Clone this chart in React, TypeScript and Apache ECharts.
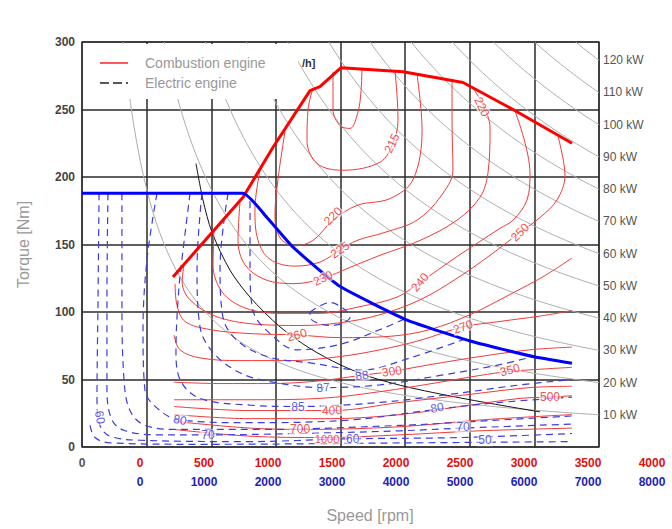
import React, { useEffect, useRef } from "react";
import * as echarts from "echarts";

type Pt = [number, number];
const FONT = "'Liberation Sans', Arial, sans-serif";

// Tick labels
const combustionTickLabels = ["0", "500", "1000", "1500", "2000", "2500", "3000", "3500", "4000"];
const electricTickLabels = ["0", "1000", "2000", "3000", "4000", "5000", "6000", "7000", "8000"];

// Constant power hyperbolas (kW)
const powerLevels = [10, 20, 30, 40, 50, 60, 70, 80, 90, 100, 110, 120];
const isoSpeeds: number[] = [];
for (let n = 25; n <= 4000; n += 25) isoSpeeds.push(n);

// Full-load curves [rpm, Nm]
const combustionMaxTorque: Pt[] = [[704, 126], [1246, 185], [1478, 222], [1764, 264], [1841, 267], [2004, 281], [2484, 278], [2948, 270], [3335, 250], [3791, 225]];
const electricMaxTorque: Pt[] = [[0, 188], [1246, 188], [1431, 170], [1633, 148], [1996, 119], [2515, 94], [3025, 78], [3489, 67], [3791, 62]];
const thinBlackCurve: Pt[] = [[882, 210], [936, 183], [1006, 159], [1145, 131], [1300, 111], [1532, 89], [1764, 73], [1996, 61], [2228, 52], [2538, 44], [3002, 35], [3544, 26]];

// Combustion engine specific consumption contours
const bsfc210: Pt[] = [[1942, 278], [1942, 250], [1996, 238], [2073, 236], [2135, 248], [2159, 264], [2166, 280]];
const bsfc215: Pt[] = [[1787, 266], [1749, 250], [1741, 227], [1818, 210], [2019, 205], [2306, 211], [2406, 225], [2445, 242], [2437, 261], [2422, 278]];
const bsfc220: Pt[] = [[2592, 276], [2631, 235], [2561, 198], [2383, 184], [2128, 179], [1942, 168], [1787, 153], [1648, 149], [1532, 155], [1493, 172], [1516, 198], [1571, 234]];
const bsfc225: Pt[] = [[2863, 271], [2863, 240], [2870, 205], [2770, 185], [2592, 168], [2344, 159], [2128, 153], [1996, 146], [1841, 137], [1648, 134], [1455, 139], [1362, 153], [1338, 176], [1377, 205]];
const bsfc230: Pt[] = [[3025, 266], [3157, 237], [3141, 203], [3079, 185], [2901, 168], [2615, 153], [2306, 142], [2073, 133], [1865, 125], [1648, 121], [1416, 124], [1261, 135], [1207, 153], [1222, 181]];
const bsfc240: Pt[] = [[3350, 249], [3466, 203], [3443, 183], [3335, 168], [3234, 162], [2901, 141], [2615, 122], [2437, 111], [2151, 104], [1841, 99], [1532, 99], [1261, 103], [1083, 115], [1014, 135], [1021, 160]];
const bsfc250: Pt[] = [[3683, 230], [3737, 201], [3675, 183], [3544, 170], [3389, 159], [3157, 142], [2886, 124], [2615, 109], [2306, 98], [1996, 92], [1687, 90], [1338, 91], [1029, 97], [836, 109], [775, 122], [789, 135]];
const bsfc260: Pt[] = [[3791, 140], [3582, 127], [3311, 113], [3002, 98], [2692, 87], [2383, 82], [1996, 81], [1663, 83], [1300, 84], [990, 87], [797, 93], [735, 105], [720, 121]];
const bsfc270: Pt[] = [[3791, 101], [3544, 97], [3234, 93], [2948, 89], [2615, 79], [2306, 72], [1996, 67], [1609, 64], [1222, 64], [913, 66], [758, 72], [712, 83]];
const bsfc300: Pt[] = [[712, 48], [1068, 47], [1455, 47], [1841, 49], [2151, 53], [2398, 56], [2692, 61], [3079, 67], [3466, 72], [3791, 74]];
const bsfc350: Pt[] = [[712, 35], [1300, 35], [1841, 36], [2306, 41], [2770, 48], [3079, 53], [3311, 56], [3791, 59]];
const bsfc400: Pt[] = [[712, 30], [1300, 27], [1934, 27], [2460, 33], [3002, 39], [3466, 44], [3791, 45]];
const bsfc500: Pt[] = [[712, 24], [1300, 21], [1919, 21], [2460, 24], [3002, 31], [3389, 36], [3621, 37], [3791, 38]];
const bsfc700: Pt[] = [[712, 19], [1300, 14], [1741, 13], [2460, 15], [3079, 20], [3791, 24]];
const bsfc1000: Pt[] = [[712, 13], [1300, 8], [1865, 7], [2460, 9], [3079, 12], [3791, 14]];

// Electric engine efficiency contours (%)
const eff50: Pt[] = [[62, 16], [101, 7], [217, 3], [913, 2], [2460, 3], [3791, 4]];
const eff60: Pt[] = [[132, 188], [124, 109], [116, 35], [139, 16], [217, 8], [449, 5], [1300, 4], [2019, 6], [2925, 7], [3791, 10]];
const eff70: Pt[] = [[201, 188], [193, 109], [193, 42], [232, 20], [333, 12], [603, 9], [975, 9], [1687, 10], [2460, 12], [2948, 14], [3791, 17]];
const eff75: Pt[] = [[309, 188], [309, 109], [325, 50], [371, 27], [487, 16], [758, 13], [1377, 13], [2460, 16], [3234, 20], [3791, 23]];
const eff80: Pt[] = [[580, 188], [503, 139], [472, 87], [487, 42], [603, 27], [758, 20], [1300, 18], [2073, 20], [2747, 28], [3234, 33], [3791, 37]];
const eff85: Pt[] = [[836, 188], [766, 133], [743, 109], [727, 72], [758, 50], [913, 36], [1300, 31], [1671, 30], [2306, 33], [2847, 39], [3389, 46], [3791, 50]];
const eff87: Pt[] = [[928, 188], [890, 133], [913, 89], [1014, 70], [1222, 55], [1478, 48], [1865, 44], [2306, 46], [2770, 53], [3234, 61], [3489, 67]];
const eff88: Pt[] = [[1130, 188], [1068, 133], [1091, 96], [1199, 79], [1431, 67], [1787, 62], [2166, 57], [2538, 66], [2963, 80]];
const eff89: Pt[] = [[1300, 182], [1300, 133], [1323, 101], [1455, 84], [1663, 72], [1996, 76], [2306, 87], [2499, 95]];
const eff90: Pt[] = [[1764, 100], [1919, 107], [2073, 96], [1996, 91], [1919, 90], [1764, 96], [1764, 100]];

// Contour labels: text, rpm, Nm, rotation
const bsfcLabels: [string, number, number, number][] = [
  ["215", 2398, 225, 65], ["220", 3094, 252, -65], ["220", 1942, 171, 45], ["225", 1996, 146, 35],
  ["230", 1865, 125, 25], ["240", 2615, 122, 50], ["250", 3389, 159, 45], ["260", 1663, 83, 15],
  ["270", 2948, 89, 20], ["300", 2398, 56, 8], ["350", 3311, 57, 15], ["400", 1934, 27, 3],
  ["500", 3621, 37, 0], ["700", 1687, 13, 0], ["1000", 1896, 6, 0],
];
const effLabels: [string, number, number, number][] = [
  ["60", 139, 22, -80], ["80", 758, 20, -10], ["70", 975, 9, 0], ["85", 1671, 30, 0],
  ["87", 1865, 44, 5], ["88", 2166, 53, 10], ["80", 2747, 29, 10], ["70", 2948, 15, 0],
  ["50", 3118, 5, 0], ["60", 2095, 6, 0],
];

const bsfcContours = [bsfc210, bsfc215, bsfc220, bsfc225, bsfc230, bsfc240, bsfc250, bsfc260, bsfc270, bsfc300, bsfc350, bsfc400, bsfc500, bsfc700, bsfc1000];
const effContours = [eff50, eff60, eff70, eff75, eff80, eff85, eff87, eff88, eff89, eff90];

function buildOption(): any {
  const series: any[] = [];
  powerLevels.forEach((P) => {
    const n0 = (9549 * P) / 300;
    const pts: Pt[] = [[n0, 300]];
    isoSpeeds.filter((n) => n > n0).forEach((n) => pts.push([n, (9549 * P) / n]));
    series.push({
      type: "line", data: pts, symbol: "none", silent: true, z: 2,
      lineStyle: { color: "#adadad", width: 1 },
      endLabel: { show: true, formatter: `${P} kW`, color: "#555", fontSize: 12, fontFamily: FONT, distance: 4 },
    });
  });
  series.push({ type: "line", data: thinBlackCurve, symbol: "none", silent: true, smooth: 0.3, z: 3, lineStyle: { color: "#111", width: 1 } });
  bsfcContours.forEach((d) => series.push({ type: "line", data: d, symbol: "none", silent: true, smooth: 0.35, z: 3, lineStyle: { color: "#f23a3a", width: 1 } }));
  effContours.forEach((d) => series.push({ type: "line", data: d, symbol: "none", silent: true, smooth: 0.35, z: 3, lineStyle: { color: "#3c3ce0", width: 1.2, type: [7, 5] } }));
  series.push({ type: "line", data: combustionMaxTorque, symbol: "none", silent: true, z: 5, lineStyle: { color: "#ff0000", width: 3 } });
  series.push({ type: "line", data: electricMaxTorque, symbol: "none", silent: true, smooth: 0.15, z: 5, lineStyle: { color: "#0000ff", width: 3 } });
  const labelSeries = (arr: [string, number, number, number][], color: string, size: number) => ({
    type: "scatter", silent: true, z: 6, symbolSize: 1, itemStyle: { color: "rgba(0,0,0,0)" },
    data: arr.map(([t, n, v, r]) => ({ name: t, value: [n, v], label: { rotate: r, fontSize: t === "1000" ? 11 : size } })),
    label: { show: true, position: "inside", formatter: "{b}", color, fontSize: size, fontFamily: FONT, backgroundColor: "rgba(255,255,255,0.75)", padding: [0, 1] },
  });
  series.push(labelSeries(bsfcLabels, "#ee2222", 12));
  series.push(labelSeries(effLabels, "#3333dd", 12));

  const split = { show: true, lineStyle: { color: "#2a2a2a", width: 1.5 } };
  return {
    animation: false,
    backgroundColor: "#ffffff",
    grid: [
      { left: 82, top: 42, width: 517, height: 405, show: true, borderColor: "#555", borderWidth: 1.5, backgroundColor: "transparent" },
      { left: 140, top: 42, width: 512, height: 405, show: false },
    ],
    xAxis: [
      {
        type: "value", gridIndex: 0, position: "bottom", min: 0, max: 4000, interval: 500,
        axisLine: { show: false }, axisTick: { show: false }, splitLine: split,
        axisLabel: { formatter: (v: number) => (v === 0 ? "0" : ""), color: "#555", fontWeight: "bold", fontSize: 12, fontFamily: FONT, margin: 10 },
      },
      {
        type: "value", gridIndex: 1, position: "bottom", min: 0, max: 4000, interval: 500,
        axisLine: { show: false }, axisTick: { show: false }, splitLine: { show: false },
        axisLabel: { formatter: (v: number) => combustionTickLabels[Math.round(v / 500)] ?? "", color: "#e01010", fontWeight: "bold", fontSize: 12, fontFamily: FONT, margin: 10, showMinLabel: true, showMaxLabel: true },
      },
      {
        type: "value", gridIndex: 1, position: "bottom", min: 0, max: 8000, interval: 1000, offset: 19,
        axisLine: { show: false }, axisTick: { show: false }, splitLine: { show: false },
        axisLabel: { formatter: (v: number) => electricTickLabels[Math.round(v / 1000)] ?? "", color: "#2323b8", fontWeight: "bold", fontSize: 12, fontFamily: FONT, margin: 10, showMinLabel: true, showMaxLabel: true },
      },
    ],
    yAxis: [
      {
        type: "value", gridIndex: 0, min: 0, max: 300, interval: 50,
        axisLine: { show: false }, axisTick: { show: false }, splitLine: split,
        axisLabel: { color: "#444", fontWeight: "bold", fontSize: 12, fontFamily: FONT, margin: 7 },
        name: "Torque [Nm]", nameLocation: "middle", nameGap: 51,
        nameTextStyle: { color: "#999", fontSize: 16, fontFamily: FONT },
      },
      { type: "value", gridIndex: 1, min: 0, max: 300, show: false },
    ],
    graphic: [
      { type: "rect", z: 4, shape: { x: 84, y: 44, width: 214, height: 55 }, style: { fill: "#ffffff" } },
      { type: "line", z: 7, shape: { x1: 100, y1: 63, x2: 128, y2: 63 }, style: { stroke: "#ff2020", lineWidth: 1.5 } },
      { type: "line", z: 7, shape: { x1: 100, y1: 83, x2: 128, y2: 83 }, style: { stroke: "#222", lineWidth: 1.5, lineDash: [9, 4] } },
      { type: "text", z: 7, x: 145, y: 63, style: { text: "Combustion engine", fill: "#999", fontSize: 14, fontFamily: FONT, align: "left", verticalAlign: "middle" } },
      { type: "text", z: 7, x: 145, y: 83, style: { text: "Electric engine", fill: "#999", fontSize: 14, fontFamily: FONT, align: "left", verticalAlign: "middle" } },
      { type: "text", z: 7, x: 302, y: 63, style: { text: "/h]", fill: "#333", fontSize: 11, fontWeight: "bold", fontFamily: FONT, align: "left", verticalAlign: "middle" } },
      { type: "text", z: 7, x: 370, y: 515, style: { text: "Speed [rpm]", fill: "#999", fontSize: 16, fontFamily: FONT, align: "center", verticalAlign: "middle" } },
    ],
    series,
  };
}

export default function App() {
  const ref = useRef<HTMLDivElement>(null);
  useEffect(() => {
    if (!ref.current) return;
    const chart = echarts.init(ref.current, undefined, { renderer: "svg" });
    chart.setOption(buildOption());
    return () => chart.dispose();
  }, []);
  return <div ref={ref} style={{ position: "fixed", left: 0, top: 0, width: 672, height: 529, background: "#fff" }} />;
}
